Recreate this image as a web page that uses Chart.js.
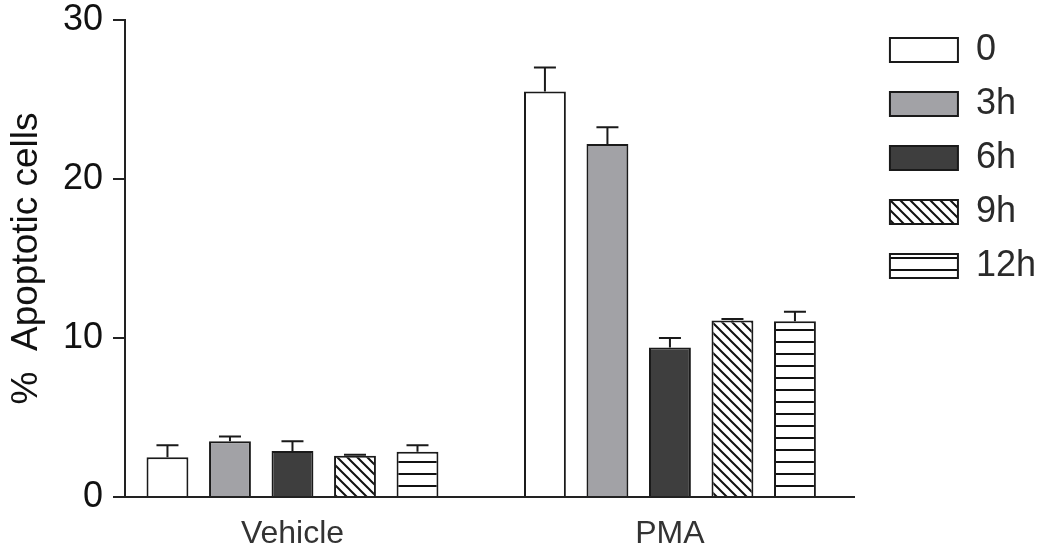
<!DOCTYPE html>
<html>
<head>
<meta charset="utf-8">
<script src="https://cdn.jsdelivr.net/npm/chart.js@4"></script>
<style>
  html, body { margin: 0; padding: 0; background: #fff; }
  #wrap { width: 1038px; height: 548px; }
</style>
</head>
<body>
<div id="wrap"><canvas id="myChart"></canvas></div>
<script>
const groups = ['Vehicle', 'PMA'];
const seriesNames = ['0', '3h', '6h', '9h', '12h'];

const means0 = [2.5, 25.5];
const means3h = [3.5, 22.2];
const means6h = [2.9, 9.4];
const means9h = [2.6, 11.1];
const means12h = [2.85, 11.05];

const err0 = [0.75, 1.5];
const err3h = [0.3, 1.05];
const err6h = [0.6, 0.6];
const err9h = [0.05, 0.1];
const err12h = [0.4, 0.6];

const yTicks = [0, 10, 20, 30];

function hatchPattern() {
  const c = document.createElement('canvas');
  c.width = 10; c.height = 10;
  const g = c.getContext('2d');
  g.fillStyle = '#fff';
  g.fillRect(0, 0, 10, 10);
  g.strokeStyle = '#111';
  g.lineWidth = 2;
  g.beginPath();
  g.moveTo(-1, -1); g.lineTo(11, 11);
  g.moveTo(-6, 4); g.lineTo(6, 16);
  g.moveTo(4, -6); g.lineTo(16, 6);
  g.stroke();
  return g.createPattern(c, 'repeat');
}

function stripePattern() {
  const c = document.createElement('canvas');
  c.width = 4; c.height = 12;
  const g = c.getContext('2d');
  g.fillStyle = '#fff';
  g.fillRect(0, 0, 4, 12);
  g.fillStyle = '#111';
  g.fillRect(0, 5, 4, 2);
  return g.createPattern(c, 'repeat');
}

const fills = ['#ffffff', '#a2a2a6', '#3e3e3e', hatchPattern(), stripePattern()];
const means = [means0, means3h, means6h, means9h, means12h];
const errs = [err0, err3h, err6h, err9h, err12h];

// upper error bars only, like the original
const errorBars = {
  id: 'errorBars',
  afterDatasetsDraw(chart) {
    const ctx = chart.ctx;
    const y = chart.scales.y;
    ctx.save();
    ctx.strokeStyle = '#1a1a1a';
    ctx.lineWidth = 2;
    chart.data.datasets.forEach((ds, i) => {
      const meta = chart.getDatasetMeta(i);
      meta.data.forEach((bar, j) => {
        const top = y.getPixelForValue(ds.data[j] + ds.errors[j]);
        ctx.beginPath();
        ctx.moveTo(bar.x, bar.y);
        ctx.lineTo(bar.x, top);
        ctx.moveTo(bar.x - 11, top);
        ctx.lineTo(bar.x + 11, top);
        ctx.stroke();
      });
    });
    ctx.restore();
  }
};

const data = {
  labels: groups,
  datasets: seriesNames.map((name, i) => ({
    label: name,
    data: means[i],
    errors: errs[i],
    backgroundColor: fills[i],
    borderColor: '#1a1a1a',
    borderWidth: 2,
    categoryPercentage: 0.828,
    barPercentage: 0.67
  }))
};

const config = {
  type: 'bar',
  data: data,
  plugins: [errorBars],
  options: {
    responsive: true,
    maintainAspectRatio: false,
    animation: false,
    layout: { padding: { left: 0, right: -8, top: -12, bottom: 0 } },
    plugins: {
      tooltip: { enabled: false },
      legend: {
        position: 'right',
        align: 'start',
        title: { display: true, text: '', font: { size: 10, lineHeight: 1 }, padding: { top: 8, bottom: 8 } },
        labels: {
          boxWidth: 68,
          boxHeight: 24,
          padding: 18,
          color: '#2a2a2a',
          font: { family: 'Liberation Sans', size: 36 }
        }
      }
    },
    scales: {
      x: {
        grid: { display: false },
        border: { display: true, color: '#222', width: 2 },
        ticks: {
          color: '#333',
          padding: 10,
          font: { family: 'Liberation Sans', size: 32 }
        },
        // the groups sit a bit wider apart than an even split of the axis
        afterBuildTicks(scale) {
          scale._startValue = -0.4437;
          scale._valueRange = 1.9338;
        },
        afterFit(scale) { scale.height = 51; }
      },
      y: {
        min: 0,
        max: 30,
        afterBuildTicks(scale) { scale.ticks = yTicks.map(v => ({ value: v })); },
        grid: { drawOnChartArea: false, drawTicks: true, tickLength: 12, color: '#222', lineWidth: 2 },
        border: { display: true, color: '#222', width: 2 },
        ticks: {
          color: '#111',
          padding: 10,
          font: { family: 'Liberation Sans', size: 36, lineHeight: 0.55 }
        },
        title: {
          display: true,
          text: '%  Apoptotic cells',
          color: '#111',
          padding: { top: 5, bottom: 0 },
          font: { family: 'Liberation Sans', size: 37 }
        },
        afterFit(scale) { scale.width = 125; }
      },
      gap: {
        type: 'linear',
        position: 'right',
        grid: { display: false },
        border: { display: false },
        ticks: { display: false },
        afterFit(scale) { scale.width = 17; }
      }
    }
  }
};

const myChart = new Chart(document.getElementById('myChart').getContext('2d'), config);
</script>
</body>
</html>
